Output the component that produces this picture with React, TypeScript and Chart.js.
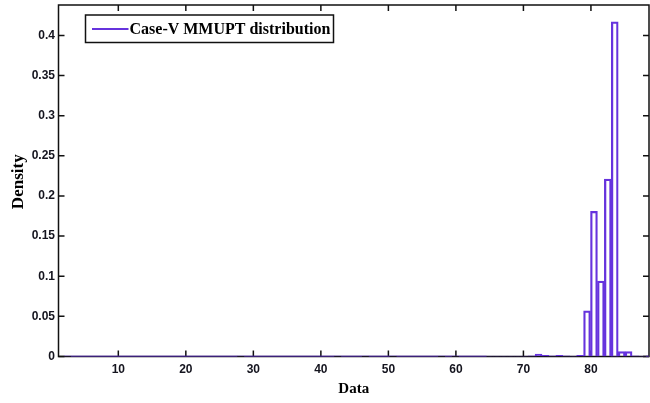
import React, { useEffect, useRef } from "react";
import { Chart, registerables } from "chart.js";

Chart.register(...registerables);

// Histogram bins (equal width) of the Case-V MMUPT data
const BIN_START = 1.96;
const BIN_WIDTH = 1.026;

// Density of each bin, bins 0..84
const density: number[] = [
  0.0008, 0, 0, 0, 0, 0, 0, 0, 0, 0,
  0, 0, 0, 0, 0, 0, 0, 0, 0, 0,
  0, 0, 0, 0, 0, 0.0008, 0, 0, 0, 0,
  0, 0, 0, 0, 0, 0, 0, 0, 0, 0.0008,
  0, 0, 0, 0.0008, 0, 0, 0, 0.0008, 0, 0,
  0, 0, 0, 0, 0.0008, 0, 0.0008, 0, 0, 0,
  0, 0.0005, 0.0005, 0.0005, 0.0005, 0.0005, 0.0005, 0.0008, 0.003, 0.0015,
  0.0008, 0.0015, 0.0008, 0.0005, 0.0015, 0.057, 0.181, 0.094, 0.221, 0.417,
  0.006, 0.006, 0.0008, 0.0005, 0,
];

const binCenters: number[] = density.map((_, i) => BIN_START + (i + 0.5) * BIN_WIDTH);

const xTickValues: number[] = [10, 20, 30, 40, 50, 60, 70, 80];
const yTickValues: number[] = [0, 0.05, 0.1, 0.15, 0.2, 0.25, 0.3, 0.35, 0.4];

const X_MIN = 1.14;
const X_MAX = 88.6;
const Y_MIN = 0;
const Y_MAX = 0.438;

const SERIES_LABEL = "Case-V MMUPT distribution";
const X_TITLE = "Data";
const Y_TITLE = "Density";

const PURPLE = "#6633DD";
const INK = "#111111";
const TICK_LEN = 6;

// Purple outline along the base of the empty bins
function zeroBaseline() {
  const pts: { x: number; y: number | null }[] = [];
  density.forEach((d, i) => {
    const left = BIN_START + i * BIN_WIDTH;
    if (d === 0) {
      pts.push({ x: left, y: 0 }, { x: left + BIN_WIDTH, y: 0 });
    } else {
      pts.push({ x: binCenters[i], y: null });
    }
  });
  return pts;
}

const framePlugin = {
  id: "matlabFrame",
  beforeDatasetsDraw(chart: any) {
    const { ctx, chartArea, scales } = chart;
    const { left, right, top, bottom } = chartArea;
    ctx.save();
    ctx.strokeStyle = INK;
    ctx.lineWidth = 1.5;
    ctx.strokeRect(left, top, right - left, bottom - top);
    ctx.beginPath();
    for (const v of xTickValues) {
      const px = scales.x.getPixelForValue(v);
      ctx.moveTo(px, bottom);
      ctx.lineTo(px, bottom - TICK_LEN);
      ctx.moveTo(px, top);
      ctx.lineTo(px, top + TICK_LEN);
    }
    for (const v of yTickValues) {
      const py = scales.y.getPixelForValue(v);
      ctx.moveTo(left, py);
      ctx.lineTo(left + TICK_LEN, py);
      ctx.moveTo(right, py);
      ctx.lineTo(right - TICK_LEN, py);
    }
    ctx.stroke();
    ctx.restore();
  },
  afterDraw(chart: any) {
    const { ctx, chartArea } = chart;
    const { left, right, top, bottom } = chartArea;
    ctx.save();
    ctx.fillStyle = "#000";

    // Axis titles
    ctx.font = "bold 15px 'Liberation Serif', serif";
    ctx.textAlign = "center";
    ctx.textBaseline = "middle";
    ctx.fillText(X_TITLE, (left + right) / 2, 389);

    ctx.save();
    ctx.translate(19, (top + bottom) / 2 + 1);
    ctx.rotate(-Math.PI / 2);
    ctx.font = "bold 17px 'Liberation Serif', serif";
    ctx.fillText(Y_TITLE, 0, 0);
    ctx.restore();

    // Legend box
    const bx = 85.5, by = 15, bw = 248, bh = 27.5;
    ctx.fillStyle = "#fff";
    ctx.fillRect(bx, by, bw, bh);
    ctx.strokeStyle = INK;
    ctx.lineWidth = 1.5;
    ctx.strokeRect(bx, by, bw, bh);
    ctx.strokeStyle = PURPLE;
    ctx.lineWidth = 2;
    ctx.beginPath();
    ctx.moveTo(92, 29);
    ctx.lineTo(128.5, 29);
    ctx.stroke();
    ctx.fillStyle = "#000";
    ctx.font = "bold 16px 'Liberation Serif', serif";
    ctx.textAlign = "left";
    ctx.textBaseline = "middle";
    ctx.fillText(chart.data.datasets[0].label, 129.5, 29.5);
    ctx.restore();
  },
};

export default function App() {
  const canvasRef = useRef<HTMLCanvasElement | null>(null);

  useEffect(() => {
    const canvas = canvasRef.current;
    if (!canvas) return;

    const chart = new Chart(canvas, {
      type: "bar",
      data: {
        datasets: [
          {
            type: "bar",
            label: SERIES_LABEL,
            data: binCenters.map((x, i) => ({ x, y: density[i] })),
            backgroundColor: "rgba(255,255,255,0)",
            borderColor: PURPLE,
            borderWidth: 1.6,
            borderSkipped: "start",
            barPercentage: 1,
            categoryPercentage: 1,
            order: 1,
          } as any,
          {
            type: "line",
            label: "baseline",
            data: zeroBaseline() as any,
            borderColor: PURPLE,
            borderWidth: 1.6,
            pointRadius: 0,
            spanGaps: false,
            fill: false,
            order: 2,
          } as any,
        ],
      },
      options: {
        animation: false,
        responsive: false,
        devicePixelRatio: 1,
        layout: { padding: { left: 0, right: 1, top: 5, bottom: 0 } },
        plugins: {
          legend: { display: false },
          tooltip: { enabled: false },
        },
        scales: {
          x: {
            type: "linear",
            min: X_MIN,
            max: X_MAX,
            offset: false,
            grid: { display: false, drawTicks: false },
            border: { display: false },
            afterBuildTicks: (scale: any) => {
              scale.ticks = xTickValues.map((v) => ({ value: v }));
            },
            afterFit: (scale: any) => {
              scale.height = 46.5;
              scale.paddingLeft = 0;
              scale.paddingRight = 0;
            },
            ticks: {
              autoSkip: false,
              maxRotation: 0,
              padding: 6,
              color: "#14141e",
              font: { family: "'Liberation Sans', Arial, sans-serif", weight: "bold", size: 12 },
              callback: (v: any) => String(v),
            },
          },
          y: {
            type: "linear",
            min: Y_MIN,
            max: Y_MAX,
            grid: { display: false, drawTicks: false },
            border: { display: false },
            afterBuildTicks: (scale: any) => {
              scale.ticks = yTickValues.map((v) => ({ value: v }));
            },
            afterFit: (scale: any) => {
              scale.width = 58.5;
              scale.paddingTop = 0;
              scale.paddingBottom = 0;
            },
            ticks: {
              autoSkip: false,
              padding: 3.5,
              color: "#14141e",
              font: { family: "'Liberation Sans', Arial, sans-serif", weight: "bold", size: 12 },
              callback: (v: any) => String(Number(Number(v).toFixed(2))),
            },
          },
        },
      },
      plugins: [framePlugin],
    });

    return () => chart.destroy();
  }, []);

  return (
    <div style={{ position: "fixed", left: 0, top: 0, width: 650, height: 403, background: "#fff" }}>
      <canvas ref={canvasRef} width={650} height={403} />
    </div>
  );
}
